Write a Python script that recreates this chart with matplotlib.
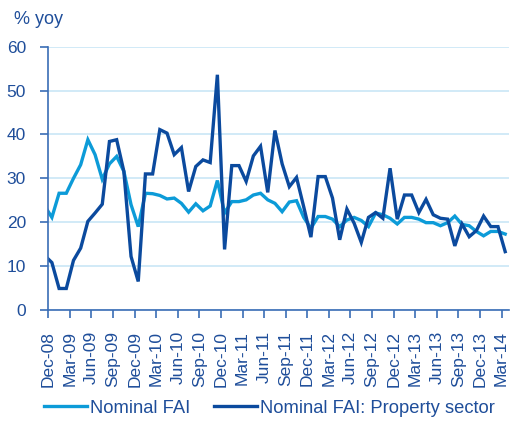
import matplotlib
matplotlib.use('Agg')
import matplotlib.pyplot as plt
import numpy as np

# monthly series, Nov-08 .. Mar-14 (Nov-08 sits just left of the axis and is clipped)
months = ['Nov-08', 'Dec-08', 'Jan-09', 'Feb-09', 'Mar-09', 'Apr-09', 'May-09', 'Jun-09',
          'Jul-09', 'Aug-09', 'Sep-09', 'Oct-09', 'Nov-09', 'Dec-09', 'Jan-10', 'Feb-10',
          'Mar-10', 'Apr-10', 'May-10', 'Jun-10', 'Jul-10', 'Aug-10', 'Sep-10', 'Oct-10',
          'Nov-10', 'Dec-10', 'Jan-11', 'Feb-11', 'Mar-11', 'Apr-11', 'May-11', 'Jun-11',
          'Jul-11', 'Aug-11', 'Sep-11', 'Oct-11', 'Nov-11', 'Dec-11', 'Jan-12', 'Feb-12',
          'Mar-12', 'Apr-12', 'May-12', 'Jun-12', 'Jul-12', 'Aug-12', 'Sep-12', 'Oct-12',
          'Nov-12', 'Dec-12', 'Jan-13', 'Feb-13', 'Mar-13', 'Apr-13', 'May-13', 'Jun-13',
          'Jul-13', 'Aug-13', 'Sep-13', 'Oct-13', 'Nov-13', 'Dec-13', 'Jan-14', 'Feb-14',
          'Mar-14']

nominal_fai = [23.7, 21.1, 26.6, 26.6, 30.0, 33.1, 38.8, 35.4,
               29.8, 33.3, 35.0, 31.6, 24.0, 19.0, 26.6, 26.5,
               26.1, 25.3, 25.5, 24.3, 22.3, 24.2, 22.6, 23.7,
               29.5, 22.1, 24.7, 24.7, 25.1, 26.2, 26.6, 25.1,
               24.3, 22.4, 24.6, 24.9, 21.1, 18.6, 21.3, 21.3,
               20.7, 19.0, 20.5, 21.1, 20.4, 19.0, 22.1, 21.7,
               20.9, 19.6, 21.1, 21.1, 20.7, 19.9, 19.9, 19.2,
               19.9, 21.4, 19.5, 19.2, 17.9, 16.9, 17.9, 17.9,
               17.3]

property_fai = [12.4, 10.8, 4.9, 4.9, 11.3, 14.1, 20.2, 22.1,
                24.1, 38.4, 38.8, 31.6, 12.2, 6.5, 31.0, 31.0,
                41.1, 40.3, 35.4, 37.0, 27.0, 32.7, 34.2, 33.6,
                53.6, 13.8, 32.9, 32.9, 29.3, 35.1, 37.3, 26.8,
                40.9, 33.3, 28.1, 30.2, 23.5, 16.6, 30.4, 30.4,
                25.5, 16.0, 23.0, 19.8, 15.4, 21.1, 22.2, 20.9,
                32.3, 20.7, 26.2, 26.2, 22.2, 25.2, 21.7, 20.9,
                20.7, 14.6, 19.6, 16.7, 18.1, 21.4, 19.0, 19.0,
                13.3]

tick_labels = months[1::3]

plt.rcParams['font.family'] = ['Liberation Sans', 'DejaVu Sans']
text_col = '#1F4E9A'
axis_col = '#3A6DB5'
light_col = '#0C9BD8'
dark_col = '#0B4A9E'

fig = plt.figure(figsize=(5.16, 4.24), dpi=100)
ax = fig.add_axes([0.0936, 0.2689, 0.8924, 0.621])

x = np.arange(len(months)) - 0.5
ax.plot(x, nominal_fai, color=light_col, lw=2.4, label='Nominal FAI', solid_joinstyle='miter')
ax.plot(x, property_fai, color=dark_col, lw=2.4, label='Nominal FAI: Property sector',
        solid_joinstyle='miter')

ax.set_xlim(0, 64)
ax.set_ylim(0, 60)
ax.set_yticks(range(0, 61, 10))
ax.set_xticks(range(0, 64, 3))
ax.set_xticklabels(tick_labels, rotation=90)
ax.grid(axis='y', color='#C9E6F6', lw=1.2)
ax.set_axisbelow(True)

for s in ['top', 'right']:
    ax.spines[s].set_visible(False)
for s in ['left', 'bottom']:
    ax.spines[s].set_color(axis_col)
    ax.spines[s].set_linewidth(1.2)
ax.tick_params(axis='both', colors=axis_col, labelcolor=text_col, labelsize=12.5,
               length=6, width=1.2)
ax.tick_params(axis='y', pad=10)
ax.tick_params(axis='x', pad=9)

fig.text(0.027, 0.975, '% yoy', color=text_col, fontsize=13, va='top', ha='left')

ax.legend(loc='center', bbox_to_anchor=(0.48, -0.373), ncol=2, frameon=False, fontsize=13.2,
          labelcolor=text_col, handlelength=2.35, handletextpad=0.15, columnspacing=1.3)

fig.savefig('out.png', dpi=100)
